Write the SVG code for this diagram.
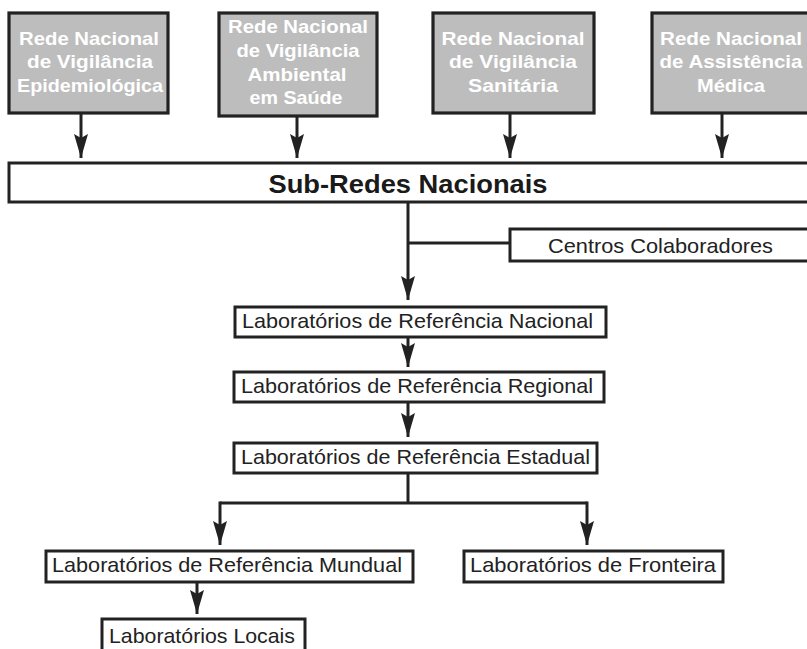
<svg xmlns="http://www.w3.org/2000/svg" width="807" height="649" viewBox="0 0 807 649">
<style>
.top{fill:#bdbdbd;stroke:#222;stroke-width:3.2}
.box{fill:#fff;stroke:#222;stroke-width:3}
.tt{font-family:"Liberation Sans",Arial,sans-serif;font-weight:bold;font-size:19px;fill:#fff;text-anchor:middle}
.lt{font-family:"Liberation Sans",Arial,sans-serif;font-size:21px;fill:#222}
.bt{font-family:"Liberation Sans",Arial,sans-serif;font-weight:bold;font-size:26px;fill:#1a1a1a;text-anchor:middle}
.ln{fill:none;stroke:#222;stroke-width:3}
</style>
<defs>
<marker id="ah" markerUnits="userSpaceOnUse" markerWidth="26" markerHeight="16" refX="24" refY="7.5" orient="auto">
<path d="M0,0.5 L24,7.5 L0,14.5 L4,7.5 z" fill="#222"/>
</marker>
</defs>
<rect width="807" height="649" fill="#fff"/>
<g id="connectors">
<path class="ln" d="M81,114 V158" marker-end="url(#ah)"/>
<path class="ln" d="M297,117 V158" marker-end="url(#ah)"/>
<path class="ln" d="M510,114 V158" marker-end="url(#ah)"/>
<path class="ln" d="M722,114 V158" marker-end="url(#ah)"/>
<path class="ln" d="M408,203 V300" marker-end="url(#ah)"/>
<path class="ln" d="M408,243 H510"/>
<path class="ln" d="M408,338 V367" marker-end="url(#ah)"/>
<path class="ln" d="M408,403 V437" marker-end="url(#ah)"/>
<path class="ln" d="M408,474 V503"/>
<path class="ln" d="M220,503 H587"/>
<path class="ln" d="M220,501.5 V545" marker-end="url(#ah)"/>
<path class="ln" d="M587,501.5 V545" marker-end="url(#ah)"/>
<path class="ln" d="M197,583 V614" marker-end="url(#ah)"/>
</g>
<g id="n1">
<rect class="top" x="9" y="13" width="159" height="100"/>
<text class="tt" x="89" y="45" textLength="140" lengthAdjust="spacingAndGlyphs">Rede Nacional</text>
<text class="tt" x="90" y="68" textLength="126" lengthAdjust="spacingAndGlyphs">de Vigilância</text>
<text class="tt" x="90" y="92" textLength="146" lengthAdjust="spacingAndGlyphs">Epidemiológica</text>
</g>
<g id="n2">
<rect class="top" x="219" y="13" width="158" height="103"/>
<text class="tt" x="298" y="33" textLength="140" lengthAdjust="spacingAndGlyphs">Rede Nacional</text>
<text class="tt" x="298" y="57" textLength="123" lengthAdjust="spacingAndGlyphs">de Vigilância</text>
<text class="tt" x="297" y="81" textLength="99" lengthAdjust="spacingAndGlyphs">Ambiental</text>
<text class="tt" x="296" y="104" textLength="93" lengthAdjust="spacingAndGlyphs">em Saúde</text>
</g>
<g id="n3">
<rect class="top" x="433" y="13" width="161" height="100"/>
<text class="tt" x="513" y="45" textLength="143" lengthAdjust="spacingAndGlyphs">Rede Nacional</text>
<text class="tt" x="513" y="68" textLength="128" lengthAdjust="spacingAndGlyphs">de Vigilância</text>
<text class="tt" x="513" y="92" textLength="90" lengthAdjust="spacingAndGlyphs">Sanitária</text>
</g>
<g id="n4">
<rect class="top" x="652" y="13" width="162" height="100"/>
<text class="tt" x="731" y="45" textLength="142" lengthAdjust="spacingAndGlyphs">Rede Nacional</text>
<text class="tt" x="731" y="68" textLength="143" lengthAdjust="spacingAndGlyphs">de Assistência</text>
<text class="tt" x="731" y="92" textLength="68" lengthAdjust="spacingAndGlyphs">Médica</text>
</g>
<g id="subredes">
<rect class="box" x="9" y="163" width="805" height="39" stroke-width="3.2"/>
<text class="bt" x="408" y="193" textLength="279" lengthAdjust="spacingAndGlyphs">Sub-Redes Nacionais</text>
</g>
<g id="centros">
<rect class="box" x="510" y="229" width="304" height="32"/>
<text class="lt" x="548" y="253" textLength="225" lengthAdjust="spacingAndGlyphs">Centros Colaboradores</text>
</g>
<g id="nacional">
<rect class="box" x="235" y="307" width="371" height="30"/>
<text class="lt" x="242" y="328" textLength="351" lengthAdjust="spacingAndGlyphs">Laboratórios de Referência Nacional</text>
</g>
<g id="regional">
<rect class="box" x="234" y="372" width="370" height="30"/>
<text class="lt" x="241" y="393" textLength="352" lengthAdjust="spacingAndGlyphs">Laboratórios de Referência Regional</text>
</g>
<g id="estadual">
<rect class="box" x="234" y="443" width="363" height="30"/>
<text class="lt" x="241" y="464" textLength="349" lengthAdjust="spacingAndGlyphs">Laboratórios de Referência Estadual</text>
</g>
<g id="mundual">
<rect class="box" x="46" y="551" width="367" height="31"/>
<text class="lt" x="52" y="572" textLength="350" lengthAdjust="spacingAndGlyphs">Laboratórios de Referência Mundual</text>
</g>
<g id="fronteira">
<rect class="box" x="464" y="551" width="259" height="31"/>
<text class="lt" x="470" y="572" textLength="246" lengthAdjust="spacingAndGlyphs">Laboratórios de Fronteira</text>
</g>
<g id="locais">
<rect class="box" x="102" y="619" width="203" height="40"/>
<text class="lt" x="109" y="643" textLength="186" lengthAdjust="spacingAndGlyphs">Laboratórios Locais</text>
</g>
</svg>
